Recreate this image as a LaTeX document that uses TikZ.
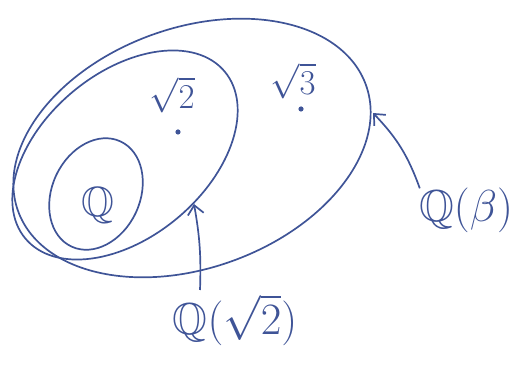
\documentclass[tikz,border=0pt]{standalone}
\usepackage{amssymb}
\usetikzlibrary{arrows.meta}
\definecolor{ink}{HTML}{3F5497}

\begin{document}
\begin{tikzpicture}[
  x=1pt, y=1pt,
  line width=1.7pt,
  field/.style={draw=ink},
  lbl/.style={text=ink, inner sep=1pt, font=\Huge},
  pointer/.style={ink, -{Straight Barb[length=9pt, width=16pt, line width=1.7pt]}},
]
\useasboundingbox (0,0) rectangle (520,380);

% the three fields, nested
\draw[field, rotate around={20:(192,232)}] (192,232) ellipse [x radius=185, y radius=120];
\draw[field, rotate around={40:(125,225)}] (125,225) ellipse [x radius=130, y radius=82];
\draw[field, rotate around={65:(96,186)}] (96,186) ellipse [x radius=58, y radius=44];

% elements
\node[lbl, scale=1.7] (q) at (98,175) {$\mathbb{Q}$};
\node[lbl, scale=1.4] (rtwo) at (172,285) {$\sqrt{2}$};
\node[lbl, scale=1.4] (rthree) at (293,299) {$\sqrt{3}$};
\fill[ink] (178,248) circle (2.6);
\fill[ink] (301,271) circle (2.6);

% names of the bigger fields
\node[lbl, scale=1.8] (qrtwo) at (235,60) {$\mathbb{Q}(\sqrt{2})$};
\node[lbl, scale=1.8] (qbeta) at (466,170) {$\mathbb{Q}(\beta)$};

\coordinate (midedge) at (194,176);
\coordinate (outedge) at (373,267);
\draw[pointer] (200,90) to[bend right=6] (midedge);
\draw[pointer] (qbeta.north west) ++(4,-4) to[bend right=12] (outedge);

\end{tikzpicture}
\end{document}
